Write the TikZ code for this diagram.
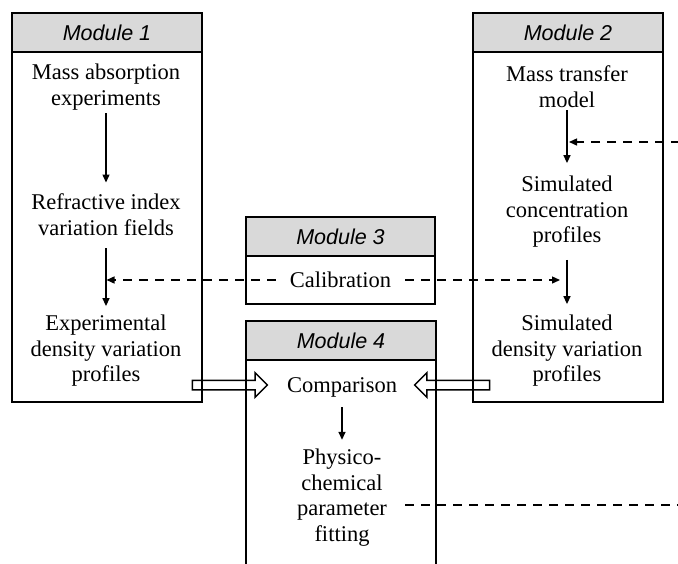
\documentclass[tikz,border=0pt]{standalone}
\usepackage{fontspec}
\setmainfont{Liberation Serif}
\newfontfamily\hdrfont{Liberation Sans}
\usetikzlibrary{arrows.meta,shapes.arrows}
\begin{document}
\begin{tikzpicture}[x=1pt,y=-1pt,
  box/.style={draw, line width=1.8pt},
  hdr/.style={draw, line width=1.8pt, fill=black!15},
  hdrtext/.style={font=\hdrfont\itshape\fontsize{21.5}{24}\selectfont, inner sep=0pt},
  txt/.style={font=\fontsize{22.5}{25.5}\selectfont, align=center, inner sep=0pt},
  arr/.style={-{Triangle[length=8pt,width=7pt]}, line width=1.4pt},
  darr/.style={dash pattern=on 9pt off 7pt, line width=1.4pt},
  fat/.style={single arrow, draw, line width=1.5pt, inner sep=0pt, inner ysep=4pt,
    minimum height=75pt, single arrow head extend=7.5pt}
]
\useasboundingbox (0,0) rectangle (678,563);
\clip (0,0) rectangle (678,563);

% Module 1
\draw[box] (12,52) rectangle (202,402);
\draw[hdr] (12,13) rectangle (202,52);
\node[hdrtext] (h1) at (107,32.5) {Module 1};
% Module 2
\draw[box] (473,52) rectangle (663,402);
\draw[hdr] (473,13) rectangle (663,52);
\node[hdrtext] (h2) at (568,32.5) {Module 2};
% Module 3
\draw[box] (246,256) rectangle (435,304);
\draw[hdr] (246,217) rectangle (435,256);
\node[hdrtext] (h3) at (340.5,236.5) {Module 3};
% Module 4
\draw[box] (246,360) rectangle (436,620);
\draw[hdr] (246,321) rectangle (436,360);
\node[hdrtext] (h4) at (341,340.5) {Module 4};

% texts
\node[txt] (m1a) at (106,87) {Mass absorption\\experiments};
\node[txt] (m1b) at (106,214.5) {Refractive index\\variation fields};
\node[txt] (m1c) at (106,351) {Experimental\\density variation\\profiles};
\node[txt] (m2a) at (567,86.5) {Mass transfer\\model};
\node[txt] (m2b) at (567,212) {Simulated\\concentration\\profiles};
\node[txt] (m2c) at (567,351) {Simulated\\density variation\\profiles};
\node[txt, inner xsep=14pt] (cal) at (340.5,280) {Calibration};
\node[txt] (cmp) at (342,387) {Comparison};
\node[txt] (fit) at (342,497.5) {Physico-\\chemical\\parameter\\fitting};

% solid arrows
\draw[arr] ([yshift=-3pt]m1a.south) -- ([yshift=11pt]m1b.north);
\draw[arr] ([yshift=-13pt]m1b.south) -- ([yshift=9pt]m1c.north);
\draw[arr] ([yshift=-3pt]m2a.south) -- ([yshift=13pt]m2b.north);
\draw[arr] ([yshift=-12pt]m2b.south) -- ([yshift=11pt]m2c.north);
\draw[arr] ([yshift=-10pt]cmp.south) -- ([yshift=9pt]fit.north);

% dashed connectors
\coordinate (calL) at (106.5,280);
\coordinate (calR) at (560,280);
\draw[darr, -{Triangle[length=8pt,width=7pt]}] (cal.west) -- (calL);
\draw[darr, -{Triangle[length=8pt,width=7pt]}] (cal.east) -- (calR);
\coordinate (inR) at (680,142);
\coordinate (m2in) at (569,142);
\draw[darr, -{Triangle[length=8pt,width=7pt]}] (inR) -- (m2in);
\coordinate (fitR) at (405,505);
\coordinate (outR) at (690,505);
\draw[darr] (fitR) -- (outR);

% fat arrows
\node[fat] (fa1) at (227.5,385) {};
\node[fat, shape border rotate=180] (fa2) at (454.5,385) {};
\end{tikzpicture}
\end{document}
